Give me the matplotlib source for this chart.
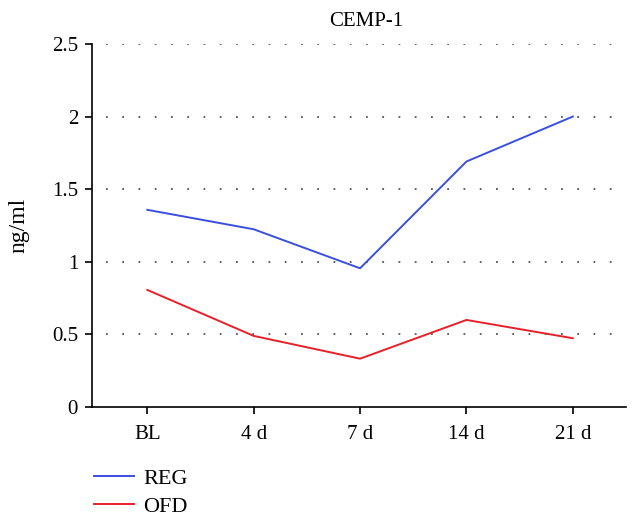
import matplotlib
matplotlib.use('Agg')
import matplotlib.pyplot as plt

days = ['BL', '4 d', '7 d', '14 d', '21 d']
reg = [1.357, 1.223, 0.954, 1.69, 2.0]
ofd = [0.805, 0.488, 0.331, 0.598, 0.472]
yticks = [0, 0.5, 1, 1.5, 2, 2.5]
ytick_labels = ['0', '0.5', '1', '1.5', '2', '2.5']

plt.rcParams['font.family'] = ['Liberation Serif', 'DejaVu Serif']

fig = plt.figure(figsize=(6.4, 5.23), dpi=100)
ax = fig.add_axes([92 / 640, 1 - 406.7 / 523, 534 / 640, (406.7 - 44) / 523])

x = list(range(len(days)))

# dotted guides, starting a little right of the axis
ax.hlines(yticks[1:], -0.39, 4.45, colors='#555555', linestyles=(0, (1, 8)), linewidth=1.3, zorder=1)

ax.plot(x, reg, color='#3a4fe0', linewidth=1.4, label='REG', zorder=3)
ax.plot(x, ofd, color='#e8202a', linewidth=1.4, label='OFD', zorder=3)

ax.set_xlim(-0.52, 4.5)
ax.set_ylim(0, 2.5)
ax.set_xticks(x)
ax.set_xticklabels(days)
ax.set_yticks(yticks)
ax.set_yticklabels(ytick_labels)

for side in ['top', 'right']:
    ax.spines[side].set_visible(False)
for side in ['left', 'bottom']:
    ax.spines[side].set_linewidth(1.2)
    ax.spines[side].set_color('black')

ax.tick_params(axis='both', direction='out', length=5, width=1.2, labelsize=15, colors='black')
ax.tick_params(axis='y', pad=5)
ax.tick_params(axis='x', pad=8)

ax.set_ylabel('ng/ml', fontsize=17)
ax.yaxis.set_label_coords(-0.118, 0.5)

ax.text(0.513, 1.035, 'CEMP-1', transform=ax.transAxes, ha='center', va='bottom', fontsize=15)

fig.legend(loc='upper left', bbox_to_anchor=(94 / 640, 1 - 468 / 523), frameon=False,
           fontsize=16, handlelength=1.8, handletextpad=0.42, labelspacing=0.35,
           borderaxespad=0, borderpad=0)

fig.savefig('out.png', dpi=100)
